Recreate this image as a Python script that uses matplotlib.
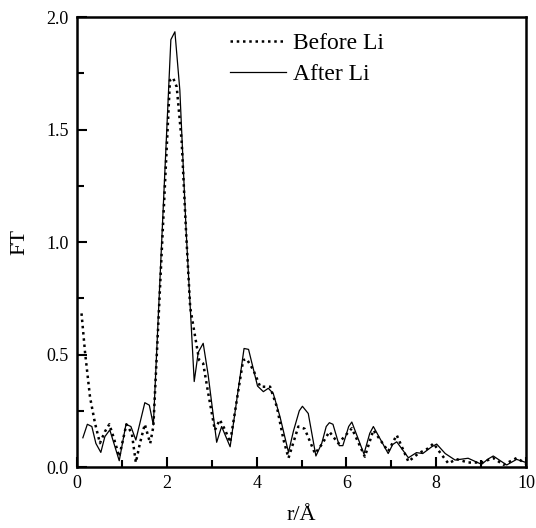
import matplotlib
matplotlib.use("Agg")
import matplotlib.pyplot as plt
from matplotlib.ticker import MultipleLocator

plt.rcParams['font.family'] = ['Liberation Serif', 'DejaVu Serif']

# before Li (dotted)
r_before = [0.10, 0.18, 0.29, 0.40, 0.51, 0.62, 0.72, 0.81, 0.94, 1.10, 1.22, 1.31, 1.40,
            1.51, 1.63, 1.70, 2.07, 2.14, 2.22, 2.33, 2.43, 2.52, 2.63, 2.72, 2.81, 2.92,
            3.07, 3.18, 3.30, 3.41, 3.70, 3.78, 3.93, 4.08, 4.30, 4.45, 4.60, 4.71, 4.93,
            5.07, 5.30, 5.45, 5.62, 5.82, 6.12, 6.41, 6.60, 6.93, 7.12, 7.38, 7.60, 7.82,
            7.94, 8.10, 8.27, 8.45, 8.71, 9.01, 9.27, 9.50, 9.79, 10.0]
ft_before = [0.683, 0.507, 0.31, 0.195, 0.106, 0.157, 0.19, 0.135, 0.046, 0.19, 0.15, 0.02, 0.105,
             0.19, 0.105, 0.18, 1.72, 1.73, 1.69, 1.45, 1.04, 0.71, 0.58, 0.475, 0.46, 0.33,
             0.164, 0.21, 0.164, 0.11, 0.475, 0.48, 0.43, 0.357, 0.357, 0.268, 0.12, 0.04, 0.18,
             0.17, 0.06, 0.10, 0.157, 0.105, 0.172, 0.046, 0.164, 0.07, 0.142, 0.024, 0.06, 0.083,
             0.105, 0.06, 0.016, 0.035, 0.02, 0.02, 0.04, 0.01, 0.04, 0.015]

# after Li (solid)
r_after = [0.13, 0.23, 0.33, 0.42, 0.53, 0.62, 0.73, 0.94, 1.09, 1.20, 1.31, 1.51, 1.61, 1.70,
           2.09, 2.18, 2.29, 2.43, 2.61, 2.70, 2.81, 2.92, 3.11, 3.22, 3.41, 3.72, 3.82, 4.02,
           4.15, 4.26, 4.37, 4.52, 4.71, 4.82, 4.95, 5.02, 5.15, 5.32, 5.45, 5.55, 5.62, 5.70,
           5.84, 5.92, 6.05, 6.12, 6.39, 6.52, 6.60, 6.93, 7.03, 7.12, 7.38, 7.56, 7.70, 7.90,
           8.01, 8.20, 8.42, 8.71, 9.01, 9.15, 9.27, 9.57, 9.79, 10.0]
ft_after = [0.13, 0.19, 0.18, 0.105, 0.065, 0.135, 0.165, 0.028, 0.19, 0.18, 0.12, 0.286, 0.275, 0.187,
            1.90, 1.935, 1.675, 1.05, 0.38, 0.51, 0.55, 0.41, 0.11, 0.18, 0.09, 0.527, 0.523, 0.36,
            0.335, 0.35, 0.327, 0.224, 0.065, 0.16, 0.25, 0.27, 0.238, 0.049, 0.105, 0.18, 0.197, 0.19,
            0.095, 0.095, 0.18, 0.2, 0.058, 0.15, 0.18, 0.06, 0.10, 0.112, 0.041, 0.064, 0.06, 0.09,
            0.102, 0.06, 0.031, 0.039, 0.012, 0.035, 0.049, 0.009, 0.034, 0.02]

fig = plt.figure(figsize=(5.36, 5.28), dpi=100)
ax = fig.add_axes([0.1437, 0.1155, 0.8377, 0.852])

ax.plot(r_before, ft_before, color='black', linestyle=(0, (1, 1.5)), linewidth=1.8, label='Before Li')
ax.plot(r_after, ft_after, color='black', linestyle='-', linewidth=0.9, label='After Li')

ax.set_xlim(0, 10)
ax.set_ylim(0, 2.0)
ax.xaxis.set_major_locator(MultipleLocator(2))
ax.xaxis.set_minor_locator(MultipleLocator(1))
ax.yaxis.set_major_locator(MultipleLocator(0.5))
ax.yaxis.set_minor_locator(MultipleLocator(0.25))
ax.yaxis.set_major_formatter(matplotlib.ticker.FormatStrFormatter('%.1f'))
ax.tick_params(which='major', direction='in', length=7, width=1.5, labelsize=13, pad=6)
ax.tick_params(which='minor', direction='in', length=5, width=1.5)
for s in ax.spines.values():
    s.set_linewidth(1.8)

ax.set_xlabel('r/Å', fontsize=16, labelpad=10)
ax.set_ylabel('FT', fontsize=16, labelpad=12)

ax.legend(loc='upper left', bbox_to_anchor=(0.34, 0.966), frameon=False, fontsize=17,
          handlelength=2.4, handletextpad=0.3, labelspacing=0.4, borderpad=0, borderaxespad=0)

fig.savefig('out.png', dpi=100)
